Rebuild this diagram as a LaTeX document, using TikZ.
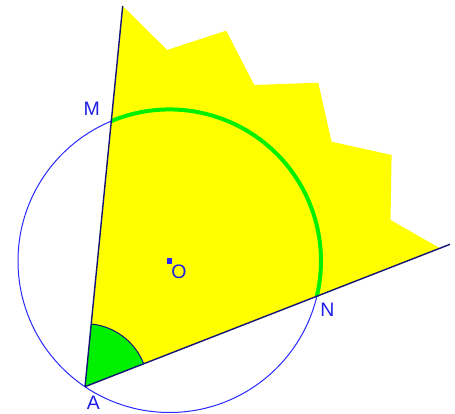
\documentclass[tikz,border=0pt]{standalone}
\usepackage{fontspec}
\setmainfont{Liberation Sans}
\usetikzlibrary{calc}
\definecolor{navyline}{RGB}{20,20,120}
\definecolor{circblue}{RGB}{40,40,255}
\definecolor{labblue}{RGB}{30,30,230}
\definecolor{brightgreen}{RGB}{0,240,0}
\definecolor{sunyellow}{RGB}{255,255,0}
\tikzset{
  raystyle/.style={draw=navyline, line width=1.4pt},
  circstyle/.style={draw=circblue, line width=1pt},
  greenarc/.style={draw=brightgreen, line width=4pt},
  lab/.style={text=labblue, inner sep=0pt, font=\fontsize{19.5}{19.5}\selectfont},
}
\begin{document}
\begin{tikzpicture}[x=1pt,y=1pt]
\useasboundingbox (0,0) rectangle (455,414);
% points
\coordinate (O) at (169.5,153);
\coordinate (A) at (85,27.3);
\coordinate (T1) at (122.7,408);
\coordinate (T2) at (450,169.7);
\coordinate (M) at (111.3,292.9);
\coordinate (N) at (316.8,117.7);
% yellow region
\fill[sunyellow] (A) -- (T1) -- (167.1,364) -- (226.2,383.3) -- (254.2,329)
  -- (318.3,331.3) -- (331.5,272.3) -- (391.6,259) -- (390.5,194) -- (440,165.8) -- cycle;
% angle sector at A
\fill[brightgreen] (A) -- ++(21.31:63) arc[start angle=21.31, end angle=84.34, radius=63] -- cycle;
\draw[navyline, line width=1pt] ($(A)+(21.31:63)$) arc[start angle=21.31, end angle=84.34, radius=63];
% circle
\draw[circstyle] (O) circle[radius=151.5];
% green arc MN
\draw[greenarc] (M) arc[start angle=112.6, end angle=-13.48, radius=151.5];
% rays
\draw[raystyle] (A) -- (T1);
\draw[raystyle] (A) -- (T2);
% centre dot
\fill[circblue] ($(O)+(-2.7,-2.7)$) rectangle ($(O)+(2.7,2.7)$);
% labels
\node[lab] (labM) at (91.7,304.8) {M};
\node[lab] (labO) at (179,142.3) {O};
\node[lab] (labN) at (327.5,104) {N};
\node[lab] (labA) at (93.5,11.5) {A};
\end{tikzpicture}
\end{document}
